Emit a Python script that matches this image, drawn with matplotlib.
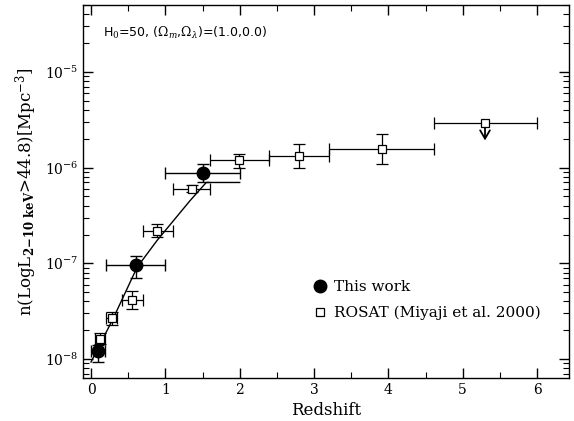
import matplotlib
matplotlib.use("Agg")
import matplotlib.pyplot as plt
from matplotlib.lines import Line2D
from matplotlib.ticker import LogLocator, MultipleLocator, NullFormatter, FixedLocator

# "This work" (filled circles)
tw_z = [0.1, 0.6, 1.5]
tw_n = [1.2e-8, 9.5e-8, 8.7e-7]
tw_zlo = [0.0, 0.2, 1.0]
tw_zhi = [0.19, 1.0, 2.0]
tw_nlo = [9.3e-9, 7.1e-8, 7.0e-7]
tw_nhi = [1.4e-8, 1.18e-7, 1.1e-6]

# ROSAT (Miyaji et al. 2000) (open squares)
ro_z = [0.12, 0.28, 0.55, 0.89, 1.36, 1.99, 2.8, 3.92]
ro_n = [1.63e-8, 2.67e-8, 4.1e-8, 2.2e-7, 6.0e-7, 1.21e-6, 1.33e-6, 1.58e-6]
ro_zlo = [0.06, 0.2, 0.42, 0.7, 1.1, 1.6, 2.4, 3.2]
ro_zhi = [0.19, 0.35, 0.7, 1.1, 1.6, 2.4, 3.2, 4.62]
ro_nlo = [1.42e-8, 2.25e-8, 3.3e-8, 1.87e-7, 5.5e-7, 1.0e-6, 1.0e-6, 1.1e-6]
ro_nhi = [1.87e-8, 3.1e-8, 5.1e-8, 2.6e-7, 6.6e-7, 1.4e-6, 1.78e-6, 2.26e-6]

# ROSAT upper limit
ul_z = 5.3
ul_n = 2.94e-6
ul_zlo = 4.62
ul_zhi = 6.0
ul_arrow_to = 1.8e-6

# model curve
mod_z = [0.0, 0.3, 0.62, 0.89, 1.33, 1.55, 2.0]
mod_n = [9.3e-9, 2.67e-8, 9.1e-8, 1.74e-7, 4.5e-7, 7.0e-7, 7.0e-7]

xticks = [0, 1, 2, 3, 4, 5, 6]
legend_labels = ['This work', 'ROSAT (Miyaji et al. 2000)']

plt.rcParams['font.family'] = ['DejaVu Serif']
plt.rcParams['mathtext.fontset'] = 'dejavuserif'

fig = plt.figure(figsize=(5.74, 4.21), dpi=100)
ax = fig.add_axes([0.1446, 0.1021, 0.8467, 0.886])

ax.plot(mod_z, mod_n, color='black', lw=1.0, zorder=2)

def asym(v, lo, hi):
    return [[a - b for a, b in zip(v, lo)], [b - a for a, b in zip(v, hi)]]

ax.errorbar(ro_z, ro_n, xerr=asym(ro_z, ro_zlo, ro_zhi), yerr=asym(ro_n, ro_nlo, ro_nhi),
            fmt='s', ms=6, mfc='white', mec='black', mew=0.9, ecolor='black',
            elinewidth=0.9, capsize=4, capthick=0.9, zorder=3)
ax.errorbar([ul_z], [ul_n], xerr=[[ul_z - ul_zlo], [ul_zhi - ul_z]],
            fmt='s', ms=6, mfc='white', mec='black', mew=0.9, ecolor='black',
            elinewidth=0.9, capsize=4, capthick=0.9, zorder=3)
ax.annotate('', xy=(ul_z, ul_arrow_to), xytext=(ul_z, ul_n),
            arrowprops=dict(arrowstyle='->,head_length=0.6,head_width=0.35', color='black', lw=1.3))
ax.errorbar(tw_z, tw_n, xerr=asym(tw_z, tw_zlo, tw_zhi), yerr=asym(tw_n, tw_nlo, tw_nhi),
            fmt='o', ms=9, mfc='black', mec='black', ecolor='black',
            elinewidth=1.0, capsize=4, capthick=1.0, zorder=4)

ax.set_yscale('log')
ax.set_xlim(-0.108, 6.43)
ax.set_ylim(6.33e-9, 5.01e-5)

ax.xaxis.set_major_locator(FixedLocator(xticks))
ax.xaxis.set_minor_locator(MultipleLocator(0.5))
ax.yaxis.set_major_locator(LogLocator(base=10, numticks=10))
ax.yaxis.set_minor_locator(LogLocator(base=10, subs=range(2, 10), numticks=20))
ax.yaxis.set_minor_formatter(NullFormatter())
ax.tick_params(which='both', direction='in', top=True, right=True, labelsize=10)
ax.tick_params(which='major', length=7, width=1)
ax.tick_params(which='minor', length=4, width=0.8)
for s in ax.spines.values():
    s.set_linewidth(1.0)

ax.set_xlabel('Redshift', fontsize=12, labelpad=4)
ax.set_ylabel(r'n(LogL$_{\mathbf{2\!-\!10\ keV}}$>44.8)[Mpc$^{-3}$]', fontsize=12, labelpad=4)

ax.text(0.041, 0.925, r'H$_0$=50, ($\Omega_m$,$\Omega_\lambda$)=(1.0,0.0)',
        transform=ax.transAxes, fontsize=9, family='DejaVu Sans', ha='left', va='center')

handles = [Line2D([], [], ls='none', marker='o', ms=9, mfc='black', mec='black'),
           Line2D([], [], ls='none', marker='s', ms=6, mfc='white', mec='black', mew=0.9)]
ax.legend(handles, legend_labels, loc='upper left', bbox_to_anchor=(0.44, 0.30), frameon=False,
          fontsize=11, handletextpad=0.3, labelspacing=0.8, handlelength=1.2)

fig.savefig('out.png', dpi=100)
